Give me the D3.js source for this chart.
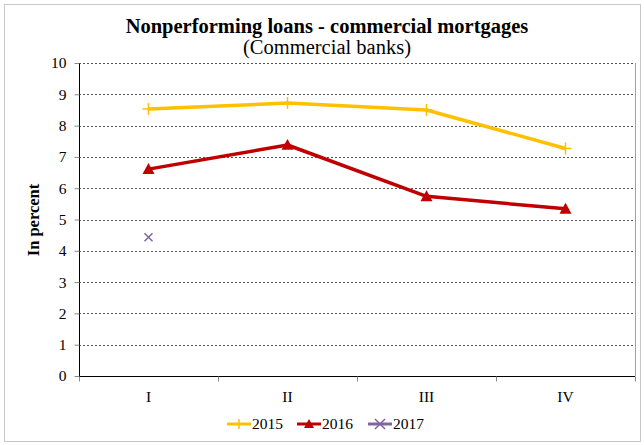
<!DOCTYPE html>
<html>
<head>
<meta charset="utf-8">
<script src="https://cdn.jsdelivr.net/npm/d3@7"></script>
<style>
  html, body { margin: 0; padding: 0; background: #fff; }
  svg { display: block; }
  text { font-family: "Liberation Serif", "Times New Roman", serif; fill: #000; }
</style>
</head>
<body>
<svg id="chart" width="644" height="445"></svg>
<script>
// Quarterly data, share of nonperforming commercial mortgage loans (%)
const quarters = ["I", "II", "III", "IV"];
const values2015 = [8.53, 8.72, 8.50, 7.27];
const values2016 = [6.61, 7.38, 5.74, 5.34];
const values2017 = [4.43];
const yTicks = [0, 1, 2, 3, 4, 5, 6, 7, 8, 9, 10];

const series = [
  { name: "2015", values: values2015, color: "#FFC000", marker: "plus" },
  { name: "2016", values: values2016, color: "#C00000", marker: "triangle" },
  { name: "2017", values: values2017, color: "#8064A2", marker: "cross" }
];

const svg = d3.select("#chart");
const W = 644, H = 445;
const plot = { left: 79, right: 635, top: 63, bottom: 376 };

// Outer frame
svg.append("rect")
  .attr("x", 4.5).attr("y", 4.5)
  .attr("width", W - 8).attr("height", H - 8)
  .attr("fill", "#fff").attr("stroke", "#c8c8c8").attr("stroke-width", 1);

// Titles
svg.append("text").attr("x", 327).attr("y", 33)
  .attr("text-anchor", "middle").attr("font-size", 20.5).attr("font-weight", "bold")
  .text("Nonperforming loans - commercial mortgages");
svg.append("text").attr("x", 327).attr("y", 54)
  .attr("text-anchor", "middle").attr("font-size", 20.5)
  .text("(Commercial banks)");

const x = d3.scaleBand().domain(quarters).range([plot.left, plot.right]);
const y = d3.scaleLinear().domain([0, 10]).range([plot.bottom, plot.top]);
const cx = q => x(q) + x.bandwidth() / 2;

// Horizontal gridlines
svg.append("g").selectAll("line")
  .data(yTicks.filter(t => t > 0))
  .join("line")
  .attr("x1", plot.left).attr("x2", plot.right)
  .attr("y1", d => Math.round(y(d)) + 0.5).attr("y2", d => Math.round(y(d)) + 0.5)
  .attr("stroke", "#555").attr("stroke-width", 1).attr("stroke-dasharray", "2,2");

// Right edge of plot area
svg.append("line")
  .attr("x1", plot.right + 0.5).attr("x2", plot.right + 0.5)
  .attr("y1", plot.top).attr("y2", plot.bottom)
  .attr("stroke", "#a0a0a0");

// Y axis
const yAxis = svg.append("g")
  .attr("transform", `translate(${plot.left + 0.5},0)`)
  .call(d3.axisLeft(y).tickValues(yTicks).tickSize(5).tickPadding(8).tickFormat(d3.format("d")));
yAxis.select(".domain").attr("stroke", "#000").attr("d", `M0,${plot.top}V${plot.bottom}`);
yAxis.selectAll(".tick line").attr("stroke", "#888");
yAxis.selectAll("text").attr("font-size", 15.5).attr("font-family", "Liberation Serif, serif");

// X axis with tick marks at category boundaries
const xAxis = svg.append("g").attr("transform", `translate(0,${plot.bottom + 0.5})`);
xAxis.append("line").attr("x1", plot.left).attr("x2", plot.right)
  .attr("stroke", "#000");
xAxis.selectAll("line.tk")
  .data(quarters.concat(["end"]))
  .join("line").attr("class", "tk")
  .attr("x1", (d, i) => plot.left + i * x.bandwidth() + 0.5)
  .attr("x2", (d, i) => plot.left + i * x.bandwidth() + 0.5)
  .attr("y1", 0).attr("y2", 5).attr("stroke", "#888");
xAxis.selectAll("text")
  .data(quarters)
  .join("text")
  .attr("x", d => cx(d)).attr("y", 25)
  .attr("text-anchor", "middle").attr("font-size", 15.5)
  .text(d => d);

// Y axis title
svg.append("text")
  .attr("transform", "translate(39,220) rotate(-90)")
  .attr("text-anchor", "middle").attr("font-size", 16.5).attr("font-weight", "bold")
  .text("In percent");

// Marker drawing
function drawMarker(g, type, color, px, py, s) {
  if (type === "plus") {
    g.append("path")
      .attr("d", `M${px - s},${py}H${px + s}M${px},${py - s}V${py + s}`)
      .attr("stroke", color).attr("stroke-width", 1.5).attr("fill", "none");
  } else if (type === "triangle") {
    g.append("path")
      .attr("d", `M${px},${py - s}L${px + s},${py + s * 0.8}L${px - s},${py + s * 0.8}Z`)
      .attr("fill", color);
  } else {
    g.append("path")
      .attr("d", `M${px - s},${py - s}L${px + s},${py + s}M${px - s},${py + s}L${px + s},${py - s}`)
      .attr("stroke", color).attr("stroke-width", 1.5).attr("fill", "none");
  }
}

const line = d3.line().x(d => cx(d.q)).y(d => y(d.v));
series.forEach(s => {
  const pts = s.values.map((v, i) => ({ q: quarters[i], v }));
  const g = svg.append("g");
  if (pts.length > 1) {
    g.append("path").datum(pts).attr("d", line)
      .attr("fill", "none").attr("stroke", s.color).attr("stroke-width", 3.5)
      .attr("stroke-linejoin", "round");
  }
  const size = s.marker === "plus" ? 6 : s.marker === "triangle" ? 6 : 4;
  pts.forEach(p => drawMarker(g, s.marker, s.color, cx(p.q), y(p.v), size));
});

// Legend
const legendX = [227, 297, 368];
series.forEach((s, i) => {
  const lx = legendX[i], ly = 424;
  const g = svg.append("g");
  g.append("line").attr("x1", lx).attr("x2", lx + 24).attr("y1", ly).attr("y2", ly)
    .attr("stroke", s.color).attr("stroke-width", 3);
  drawMarker(g, s.marker, s.color, lx + 12, ly, 5);
  g.append("text").attr("x", lx + 25).attr("y", ly + 5).attr("font-size", 15.5).text(s.name);
});
</script>
</body>
</html>
